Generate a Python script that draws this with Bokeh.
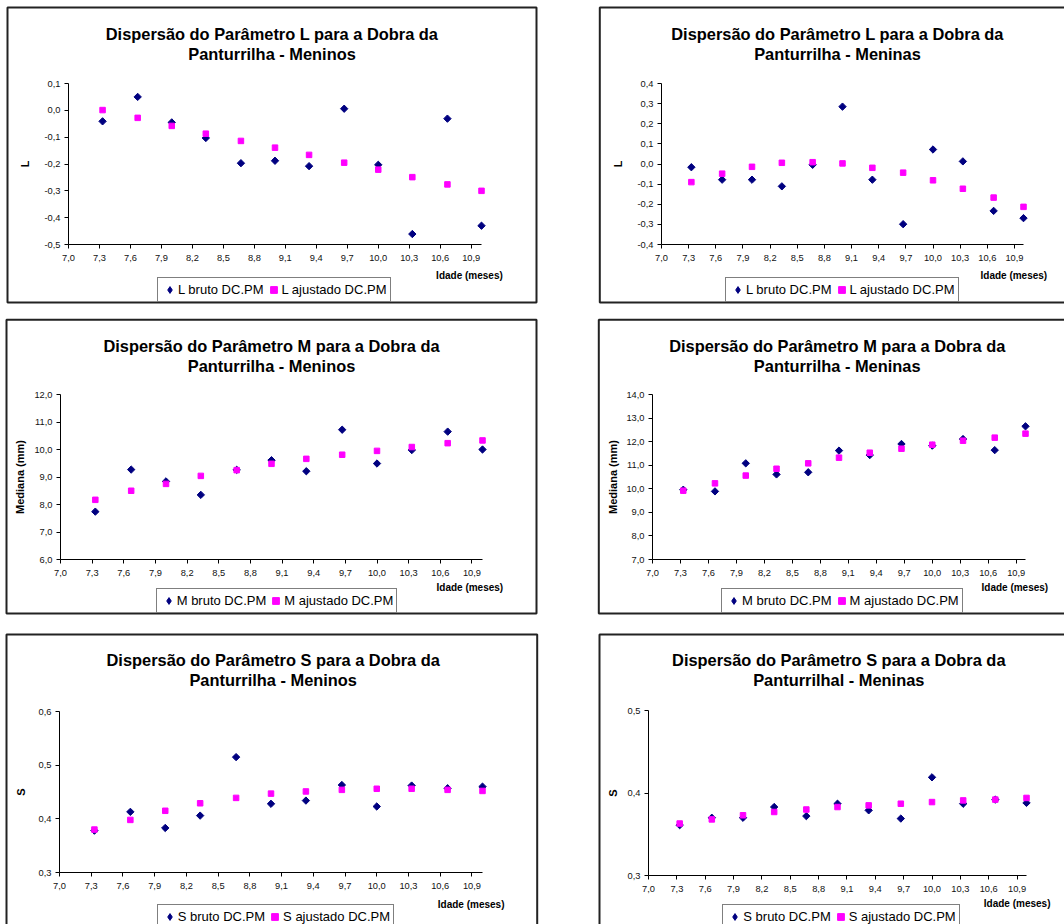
import math
from bokeh.plotting import figure
from bokeh.models import Range1d, FixedTicker, CustomJSTickFormatter, Label, BoxAnnotation
from bokeh.layouts import row, column
from bokeh.embed import file_html
from bokeh.resources import INLINE

# ---------------- data ----------------
idade = [7.33, 7.67, 8.0, 8.33, 8.67, 9.0, 9.33, 9.67, 10.0, 10.33, 10.67, 11.0]
x_ticks = [7.0, 7.3, 7.6, 7.9, 8.2, 8.5, 8.8, 9.1, 9.4, 9.7, 10.0, 10.3, 10.6, 10.9]

L_bruto_meninos = [-0.041, 0.050, -0.045, -0.103, -0.197, -0.188, -0.208, 0.006, -0.203, -0.461, -0.031, -0.430]
L_ajust_meninos = [0.001, -0.028, -0.058, -0.087, -0.114, -0.139, -0.166, -0.195, -0.221, -0.249, -0.276, -0.300]
L_bruto_meninas = [-0.016, -0.078, -0.078, -0.111, -0.004, 0.285, -0.078, -0.299, 0.072, 0.013, -0.233, -0.269]
L_ajust_meninas = [-0.090, -0.048, -0.014, 0.006, 0.009, 0.003, -0.019, -0.043, -0.081, -0.123, -0.167, -0.213]
M_bruto_meninos = [7.74, 9.27, 8.84, 8.35, 9.26, 9.61, 9.21, 10.72, 9.49, 9.98, 10.65, 10.00]
M_ajust_meninos = [8.17, 8.50, 8.75, 9.04, 9.25, 9.48, 9.66, 9.81, 9.95, 10.09, 10.23, 10.33]
M_bruto_meninas = [9.96, 9.89, 11.08, 10.61, 10.70, 11.62, 11.43, 11.90, 11.83, 12.11, 11.64, 12.65]
M_ajust_meninas = [9.92, 10.23, 10.56, 10.85, 11.08, 11.32, 11.53, 11.70, 11.87, 12.04, 12.17, 12.34]
S_bruto_meninos = [0.378, 0.413, 0.383, 0.406, 0.515, 0.428, 0.434, 0.463, 0.423, 0.462, 0.457, 0.460]
S_ajust_meninos = [0.380, 0.398, 0.415, 0.429, 0.439, 0.447, 0.451, 0.454, 0.456, 0.456, 0.454, 0.452]
S_bruto_meninas = [0.361, 0.370, 0.370, 0.383, 0.372, 0.387, 0.379, 0.369, 0.419, 0.387, 0.392, 0.388]
S_ajust_meninas = [0.363, 0.368, 0.373, 0.377, 0.380, 0.383, 0.385, 0.387, 0.389, 0.391, 0.392, 0.394]

L_meninos_ticks = [-0.5, -0.4, -0.3, -0.2, -0.1, 0.0, 0.1]
L_meninas_ticks = [-0.4, -0.3, -0.2, -0.1, 0.0, 0.1, 0.2, 0.3, 0.4]
M_meninos_ticks = [6.0, 7.0, 8.0, 9.0, 10.0, 11.0, 12.0]
M_meninas_ticks = [7.0, 8.0, 9.0, 10.0, 11.0, 12.0, 13.0, 14.0]
S_meninos_ticks = [0.3, 0.4, 0.5, 0.6]
S_meninas_ticks = [0.3, 0.4, 0.5]

FONT = "Liberation Sans"
NAVY = "#000080"
MAGENTA = "#FF00FF"

# ---------------- layout (page pixel coordinates) ----------------
COLS = [(0, 593), (593, 471)]
ROWS = [(0, 311), (311, 313), (624, 300)]

panels = [
    dict(col=0, row=0, frame=(68, 83, 481, 244), box=(7, 7, 536, 302),
         t1="Dispersão do Parâmetro L para a Dobra da", t2="Panturrilha - Meninos",
         tpos=(271.5, 33.3), ylabel="L", ylab_sd=10, ticks=L_meninos_ticks,
         bruto=L_bruto_meninos, ajust=L_ajust_meninos, par="L",
         legend=(157, 302), idade_lab=(502.3, 274.7)),
    dict(col=1, row=0, frame=(661, 83, 1023, 244), box=(599.3, 7, 1140, 302),
         t1="Dispersão do Parâmetro L para a Dobra da", t2="Panturrilha - Meninas",
         tpos=(837, 33.3), ylabel="L", ylab_sd=10, ticks=L_meninas_ticks,
         bruto=L_bruto_meninas, ajust=L_ajust_meninas, par="L",
         legend=(725, 302), idade_lab=(1046.7, 275)),
    dict(col=0, row=1, frame=(60, 394, 482, 559), box=(6, 319.3, 536, 613),
         t1="Dispersão do Parâmetro M para a Dobra da", t2="Panturrilha - Meninos",
         tpos=(271, 345), ylabel="Mediana (mm)", ylab_sd=5, ticks=M_meninos_ticks,
         bruto=M_bruto_meninos, ajust=M_ajust_meninos, par="M",
         legend=(155.7, 613), idade_lab=(502.7, 587.3)),
    dict(col=1, row=1, frame=(652, 394, 1025, 559), box=(598.3, 319.3, 1140, 613),
         t1="Dispersão do Parâmetro M para a Dobra da", t2="Panturrilha - Meninas",
         tpos=(836.7, 345), ylabel="Mediana (mm)", ylab_sd=4, ticks=M_meninas_ticks,
         bruto=M_bruto_meninas, ajust=M_ajust_meninas, par="M",
         legend=(721, 613), idade_lab=(1047.7, 586.5)),
    dict(col=0, row=2, frame=(59, 711, 482, 872), box=(6, 634, 536.7, 960),
         t1="Dispersão do Parâmetro S para a Dobra da", t2="Panturrilha - Meninos",
         tpos=(272.7, 659), ylabel="S", ylab_sd=9, ticks=S_meninos_ticks,
         bruto=S_bruto_meninos, ajust=S_ajust_meninos, par="S",
         legend=(156.7, 928.5), idade_lab=(504, 903.5)),
    dict(col=1, row=2, frame=(648, 710, 1026, 875), box=(599, 634, 1140, 960),
         t1="Dispersão do Parâmetro S para a Dobra da", t2="Panturrilhal - Meninas",
         tpos=(838.3, 659), ylabel="S", ylab_sd=6, ticks=S_meninas_ticks,
         bruto=S_bruto_meninas, ajust=S_ajust_meninas, par="S",
         legend=(722.3, 928.5), idade_lab=(1050, 903)),
]

fmt_code = "return tick.toFixed(1).replace('.', ',');"


def make_panel(s):
    ox, w = COLS[s["col"]]
    oy, h = ROWS[s["row"]]
    fL, fT, fAxR, fB = s["frame"]
    ticks = s["ticks"]
    ymin, ymax = ticks[0], ticks[-1]
    ppx = (fAxR - fL) / (11.0 - 7.0)
    ppy = (fB - fT) / (ymax - ymin)
    x0 = 7.0 - (fL - ox) / ppx
    x1 = 7.0 + (ox + w - fL) / ppx
    y0 = ymin - (oy + h - fB) / ppy
    y1 = ymax + (fT - oy) / ppy

    p = figure(width=w, height=h, output_backend="svg", toolbar_location=None, tools="",
               x_range=Range1d(x0, x1), y_range=Range1d(y0, y1),
               min_border_left=0, min_border_right=0, min_border_top=0, min_border_bottom=0)
    p.outline_line_color = None
    p.grid.visible = False
    p.background_fill_color = "white"
    p.border_fill_color = "white"

    # page coords -> frame screen coords (frame == whole canvas)
    def sx(X):
        return X - ox

    def sy(Y):
        return (oy + h) - Y

    # outer chart box
    bL, bT, bR, bB = s["box"]
    p.add_layout(BoxAnnotation(left=sx(bL), right=sx(bR), top=sy(bT), bottom=sy(bB),
                               left_units="screen", right_units="screen",
                               top_units="screen", bottom_units="screen",
                               fill_color=None, fill_alpha=0, line_color="#222222",
                               line_alpha=1.0, line_width=2, level="underlay"))

    xa = p.xaxis[0]
    xa.ticker = FixedTicker(ticks=x_ticks)
    xa.formatter = CustomJSTickFormatter(code=fmt_code)
    xa.bounds = (7.0, 11.0)
    xa.fixed_location = ymin
    ya = p.yaxis[0]
    ya.ticker = FixedTicker(ticks=ticks)
    ya.formatter = CustomJSTickFormatter(code=fmt_code)
    ya.bounds = (ymin, ymax)
    ya.fixed_location = 7.0
    for ax in (xa, ya):
        ax.axis_line_color = "black"
        ax.major_tick_line_color = "black"
        ax.major_tick_in = 0
        ax.major_tick_out = 4
        ax.minor_tick_line_color = None
        ax.major_label_text_font = FONT
        ax.major_label_text_font_size = "9.3px"
        ax.major_label_text_color = "#111111"
    xa.major_label_standoff = 6
    ya.major_label_standoff = 4
    ya.axis_label = s["ylabel"]
    ya.axis_label_text_font = FONT
    ya.axis_label_text_font_size = "11px"
    ya.axis_label_text_font_style = "bold"
    ya.axis_label_text_color = "black"
    ya.axis_label_standoff = s["ylab_sd"]

    par = s["par"]
    # raw values: navy diamonds (rotated squares in the plot)
    p.scatter(idade, s["bruto"], marker="square", angle=math.pi / 4, size=5.2, color=NAVY)
    # legend-only diamond glyph (no visible point: NaN position)
    p.scatter([float("nan")], [float("nan")], marker="diamond", color=NAVY,
              legend_label=f"{par} bruto DC.PM")
    # adjusted values: magenta squares
    p.scatter(idade, s["ajust"], marker="square", size=5.5, color=MAGENTA,
              legend_label=f"{par} ajustado DC.PM")

    # title (two centred lines)
    cx, b1 = s["tpos"]
    for txt, yy in ((s["t1"], b1), (s["t2"], b1 + 20.5)):
        p.add_layout(Label(x=sx(cx), y=sy(yy), x_units="screen", y_units="screen",
                           text=txt, text_align="center", text_baseline="alphabetic",
                           text_font=FONT, text_font_size="16.4px", text_font_style="bold",
                           text_color="black"))

    ix, iy = s["idade_lab"]
    p.add_layout(Label(x=sx(ix), y=sy(iy), x_units="screen", y_units="screen",
                       text="Idade (meses)", text_align="right", text_baseline="middle",
                       text_font=FONT, text_font_size="10px", text_font_style="bold",
                       text_color="black"))

    lg = p.legend[0]
    lg.orientation = "horizontal"
    lx, lb = s["legend"]
    lg.location = (sx(lx), sy(lb))
    lg.label_text_font = FONT
    lg.label_text_font_size = "13px"
    lg.label_text_color = "black"
    lg.padding = 3
    lg.spacing = 1
    lg.margin = 0
    lg.glyph_width = 17
    lg.glyph_height = 17
    lg.label_height = 15
    lg.label_width = 0
    lg.label_standoff = 0
    lg.border_line_color = "black"
    lg.border_line_width = 1
    lg.background_fill_color = "white"
    lg.background_fill_alpha = 1.0
    return p


figs = [make_panel(s) for s in panels]
page = column(row(figs[0], figs[1]), row(figs[2], figs[3]), row(figs[4], figs[5]))

open("out.html", "w").write(file_html(page, INLINE))
